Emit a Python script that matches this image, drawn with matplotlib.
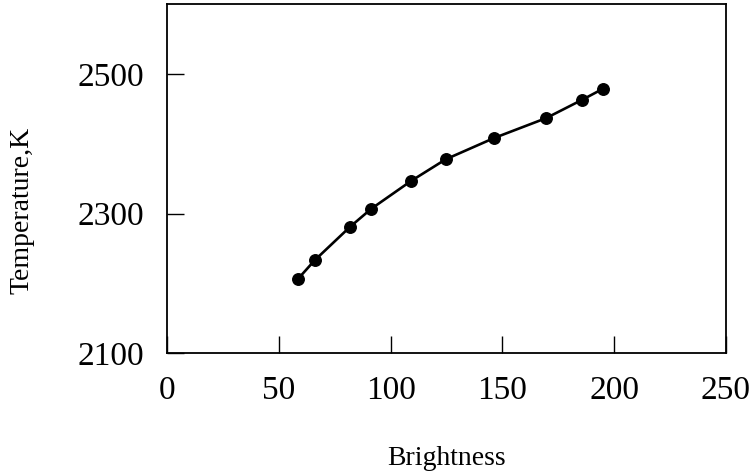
import matplotlib
matplotlib.use("Agg")
import matplotlib.pyplot as plt

brightness = [58.3, 65.9, 81.6, 91.2, 109.1, 124.6, 146.2, 169.5, 185.8, 195.0]
temperature = [2205.7, 2232.9, 2280.4, 2306.6, 2346.6, 2377.6, 2408.0, 2436.5, 2463.0, 2478.6]
xticks = [0, 50, 100, 150, 200, 250]
yticks = [2100, 2300, 2500]

plt.rcParams['font.family'] = ['Liberation Serif', 'DejaVu Serif']

fig = plt.figure(figsize=(7.5, 4.76), dpi=100)
ax = fig.add_axes([0.2232, 0.258, 0.7445, 0.7336])

ax.plot(brightness, temperature, '-', color='black', lw=1.9, zorder=2,
        solid_joinstyle='round')
ax.plot(brightness, temperature, 'o', color='black', ms=8.3, zorder=3)

ax.set_xlim(0, 250)
ax.set_ylim(2100, 2600)
ax.set_xticks(xticks)
ax.set_yticks(yticks)
ax.tick_params(axis='both', direction='in', length=12, width=1, labelsize=24,
               top=False, right=False, colors='black')
ax.tick_params(axis='x', pad=16)
ax.tick_params(axis='y', pad=17)
for s in ax.spines.values():
    s.set_linewidth(1.3)
    s.set_color('black')

ax.set_xlabel('Brightness', fontsize=20)
ax.set_ylabel('Temperature,K', fontsize=20)
ax.xaxis.set_label_coords(0.5, -0.3026)
ax.xaxis.label.set_va('center')
ax.yaxis.set_label_coords(-0.2604, 0.41)
ax.yaxis.label.set_va('center')

fig.savefig('out.png', dpi=100, facecolor='white')
